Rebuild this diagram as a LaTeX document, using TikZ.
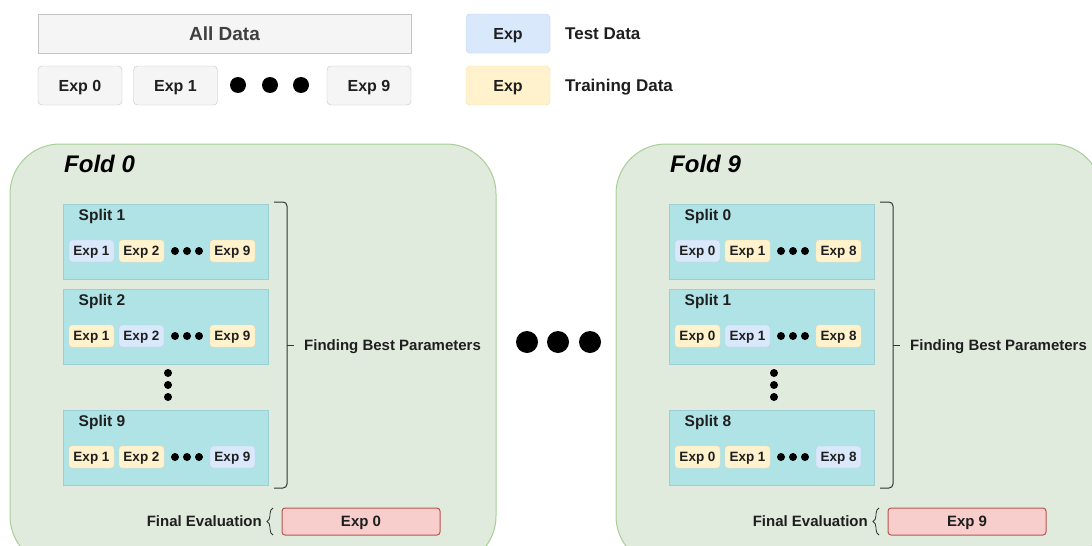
\documentclass[tikz,border=0pt]{standalone}
\usepackage{fontspec}
\setmainfont{Liberation Sans}
\usepackage{xcolor}
\definecolor{dnxam}{HTML}{F5F5F5}
\definecolor{dnxamvien}{HTML}{C4C4C4}
\definecolor{dnxanh}{HTML}{DAE8FC}
\definecolor{dnxanhvien}{HTML}{BBCFEC}
\definecolor{dnvang}{HTML}{FFF2CC}
\definecolor{dnvangvien}{HTML}{F1DCA6}
\definecolor{dnngoc}{HTML}{B0E3E6}
\definecolor{dnngocvien}{HTML}{9CCFD3}
\definecolor{dnluc}{HTML}{E1EBDD}
\definecolor{dnlucvien}{HTML}{A6CF95}
\definecolor{dndo}{HTML}{F8CECC}
\definecolor{dndovien}{HTML}{B85450}
\def\mauchu{black!88}
\usetikzlibrary{decorations.pathreplacing}

\begin{document}
\begin{tikzpicture}[x=1pt,y=-1pt,
	hop/.style={draw=dnxamvien,fill=dnxam,rounded corners=4pt,minimum width=84pt,minimum height=39pt,inner sep=0pt,text depth=0pt,font=\fontsize{16}{19}\selectfont\bfseries,text=\mauchu},
	thu/.style={draw=dnxanhvien,fill=dnxanh,rounded corners=3pt,minimum width=45pt,minimum height=22pt,inner sep=0pt,text depth=0pt,font=\fontsize{13.5}{15}\selectfont\bfseries,text=\mauchu},
	hoc/.style={thu,draw=dnvangvien,fill=dnvang},
	tach/.style={draw=dnngocvien,fill=dnngoc,line width=1pt,minimum width=205pt,minimum height=75pt,inner sep=0pt},
	chu/.style={font=\fontsize{15}{18}\selectfont\bfseries,text=\mauchu,inner sep=0pt,text depth=0pt},
	cham/.style={fill=black}]
	\useasboundingbox (0,0) rectangle (1092,546);
	\clip (0,0) rectangle (1092,546);
	% du lieu
	\path (224.5,33.5) node[hop,rounded corners=0pt,minimum width=373pt,font=\fontsize{19}{22}\selectfont\bfseries,text=black!75] (all) {All Data};
	\path (80,85.5) node[hop] (e0) {Exp 0}
		(175.5,85.5) node[hop] (e1) {Exp 1}
		(369,85.5) node[hop] (e9) {Exp 9};
	\fill[cham] (238,85) circle (8) (270,85) circle (8) (301,85) circle (8);
	% chu thich
	\path (508,33.5) node[hop,draw=dnxanhvien,fill=dnxanh] (lt) {Exp}
		(508,85.5) node[hop,draw=dnvangvien,fill=dnvang] (lh) {Exp};
	\path (565,33.5) node[chu,anchor=west,font=\fontsize{17}{20}\selectfont\bfseries] (tt) {Test Data}
		(565,85.5) node[chu,anchor=west,font=\fontsize{17}{20}\selectfont\bfseries] (th) {Training Data};
	\fill[cham] (527,342) circle (11) (558,342) circle (11) (590,342) circle (11);
	% cac fold
	\foreach \dx/\f/\a/\b/\c/\ev in {0/0/1/2/9/0,606/9/0/1/8/9}{
		\draw[draw=dnlucvien,fill=dnluc,line width=1pt,rounded corners=50pt] ({10+\dx},144) rectangle ({496+\dx},566);
		\path ({64+\dx},164) node[anchor=west,inner sep=0pt,text depth=0pt,font=\fontsize{24}{28}\selectfont\bfseries\itshape] (f\f) {Fold \f};
		\foreach \k/\n/\yc in {1/\a/204,2/\b/289,3/\c/410}{
			\path ({165.5+\dx},{\yc+37.5}) node[tach] (s\f-\k) {};
			\path ([xshift=16pt,yshift=-11pt]s\f-\k.north west) node[chu,anchor=west,font=\fontsize{15.5}{18}\selectfont\bfseries] (sl\f-\k) {Split \n};
			\foreach \j/\m/\xc in {1/\a/91.5,2/\b/141.5,3/\c/232.5}{
				\ifnum\j=\k \def\kieu{thu}\else\def\kieu{hoc}\fi
				\path ({\xc+\dx},{\yc+47}) node[\kieu] (x\f-\k-\j) {Exp \m};
			}
			\fill[cham] ({175+\dx},{\yc+47}) circle (4) ({187+\dx},{\yc+47}) circle (4) ({199+\dx},{\yc+47}) circle (4);
		}
		\fill[cham] ({168+\dx},373) circle (4) ({168+\dx},385) circle (4) ({168+\dx},397) circle (4);
		% ngoac
		\draw[line width=1pt,black!80,rounded corners=4pt] ({274+\dx},202) -- ({287+\dx},202) -- ({287+\dx},488) -- ({274+\dx},488);
		\draw[line width=1pt,black!80] ({287+\dx},345) -- ({294+\dx},345);
		\path ({304+\dx},345) node[chu,anchor=west] (fb\f) {Finding Best Parameters};
		% danh gia
		\path ({361+\dx},521.5) node[thu,draw=dndovien,fill=dndo,line width=1pt,minimum width=158pt,minimum height=27pt,font=\fontsize{15}{18}\selectfont\bfseries] (ev\f) {Exp \ev};
		\draw[line width=0.8pt,black!80,decorate,decoration={brace,amplitude=6pt}] ({273+\dx},535) -- ({273+\dx},508);
		\path ({262+\dx},521) node[chu,anchor=east] (fe\f) {Final Evaluation};
	}
\end{tikzpicture}
\end{document}
